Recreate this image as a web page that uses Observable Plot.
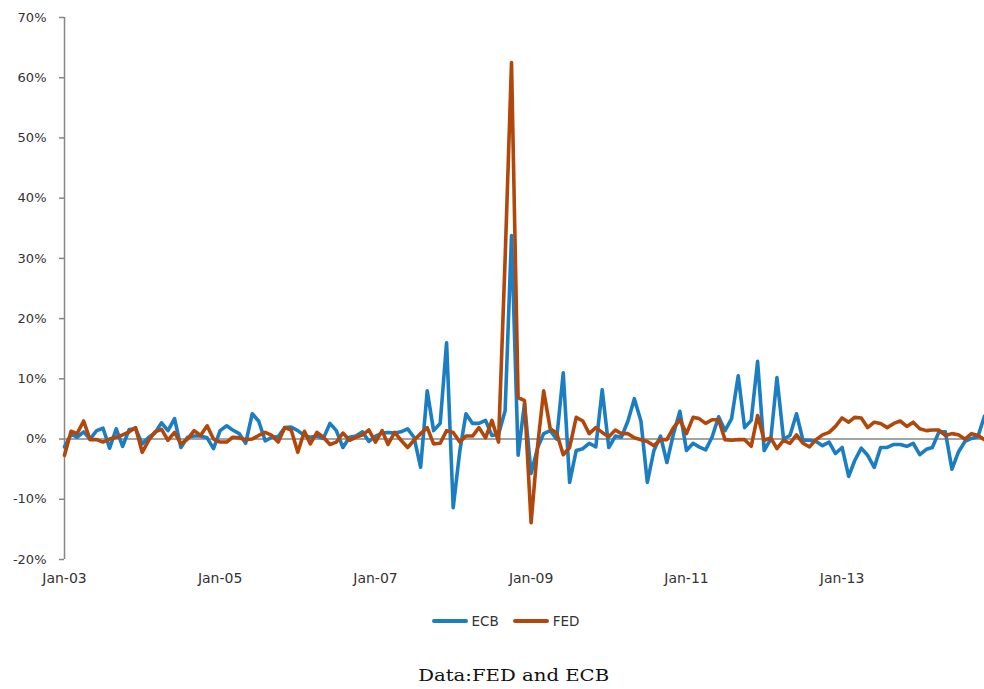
<!DOCTYPE html>
<html>
<head>
<meta charset="utf-8">
<script src="https://cdn.jsdelivr.net/npm/d3@7"></script>
<script src="https://cdn.jsdelivr.net/npm/@observablehq/plot@0.6"></script>
<style>
  html, body { margin: 0; padding: 0; background: #fff; }
  #wrap { position: relative; width: 984px; height: 689px; overflow: hidden; background: #fff; }
  #chart { position: absolute; left: 0; top: 0; }
  #legend { position: absolute; left: 0; top: 611px; width: 984px; height: 20px; box-sizing: border-box; padding-left: 27px;
            display: flex; justify-content: center; align-items: center; gap: 14px;
            font-family: "DejaVu Sans", sans-serif; font-size: 13.5px; color: #333; }
  .item { display: flex; align-items: center; }
  .sw { width: 36px; height: 4px; border-radius: 2px; margin-right: 4px; }
  #caption { position: absolute; left: 0; top: 666px; width: 984px; height: 20px; line-height: 20px; box-sizing: border-box; padding-left: 44px;
             text-align: center; font-family: "DejaVu Serif", serif; font-size: 16px; color: #111; }
  #caption span { display: inline-block; transform: scaleX(1.23); }
</style>
</head>
<body>
<div id="wrap">
  <div id="chart"></div>
  <div id="legend"></div>
  <div id="caption"><span>Data:FED and ECB</span></div>
</div>
<script>
// Monthly % change, Jan 2003 onward
const startMonth = "2003-01";
const ecb = [
  -1.3, 0.8, 0.3, 1.2, 0.0, 1.4, 1.8, -1.5, 1.7, -1.2, 1.6, 1.7,
  -0.8, 0.3, 1.0, 2.7, 1.4, 3.4, -1.4, 0.3, 0.5, 0.5, 0.2, -1.6,
  1.4, 2.2, 1.5, 0.9, -0.7, 4.2, 3.0, -0.3, 0.3, 0.4, 1.9, 2.0,
  1.4, 0.6, 0.3, 0.5, 0.1, 2.6, 1.4, -1.4, 0.3, 0.5, 1.2, -0.4,
  0.5, 1.0, 1.1, 1.0, 1.2, 1.7, 0.3, -4.7, 8.0, 1.4, 2.6, 16.0,
  -11.4, -2.0, 4.2, 2.6, 2.6, 3.1, 0.6, 0.8, 4.7, 33.8, -2.7, 5.9,
  -5.7, -1.4, 0.9, 1.4, 0.0, 11.0, -7.2, -1.9, -1.6, -0.7, -1.3, 8.2,
  -1.4, 0.5, 0.3, 3.0, 6.7, 3.0, -7.2, -1.9, 0.5, -3.9, 0.9, 4.6,
  -1.9, -0.7, -1.3, -1.8, 0.3, 3.7, 1.4, 3.4, 10.5, 1.9, 3.1, 12.9,
  -1.9, 0.0, 10.2, 0.0, 0.6, 4.2, -0.2, -0.2, -0.4, -1.1, -0.5, -2.4,
  -1.4, -6.2, -3.6, -1.5, -2.7, -4.7, -1.4, -1.4, -0.9, -0.9, -1.2, -0.7,
  -2.6, -1.7, -1.4, 1.2, 1.2, -5.0, -2.2, -0.4, 0.1, 0.4, 3.8
];
const fed = [
  -2.7, 1.3, 0.9, 3.0, -0.1, -0.1, -0.5, 0.0, 0.3, 0.7, 1.2, 1.9,
  -2.2, -0.2, 1.2, 1.6, -0.2, 1.1, -0.8, 0.0, 1.4, 0.6, 2.2, 0.0,
  -0.5, -0.5, 0.3, 0.2, -0.1, 0.0, 0.6, 1.1, 0.6, -0.5, 1.9, 1.5,
  -2.2, 1.3, -0.8, 1.1, 0.3, -0.9, -0.5, 1.0, -0.2, 0.3, 0.7, 1.5,
  -0.5, 1.4, -0.9, 1.1, -0.2, -1.4, -0.2, 0.9, 1.9, -0.8, -0.7, 1.4,
  1.1, -0.5, 0.5, 0.5, 1.9, 0.2, 3.1, -0.5, 30.0, 62.5, 6.9, 6.4,
  -13.9, -1.0, 8.0, 1.7, 1.0, -2.6, -1.4, 3.6, 3.0, 0.9, 1.9, 1.1,
  0.4, 1.5, 0.9, 0.9, 0.2, -0.1, -0.4, -1.1, -0.1, -0.1, 1.9, 3.2,
  0.9, 3.6, 3.4, 2.6, 3.2, 3.2, -0.1, -0.2, -0.1, -0.1, -1.2, 3.9,
  -0.2, 0.2, -1.6, -0.2, -0.7, 0.7, -0.7, -1.3, -0.1, 0.7, 1.1, 2.1,
  3.5, 2.8, 3.6, 3.5, 1.9, 2.8, 2.6, 1.9, 2.6, 3.0, 2.1, 2.8,
  1.7, 1.4, 1.5, 1.5, 0.6, 0.9, 0.7, 0.0, 0.9, 0.6, -0.1
];
const seriesNames = ["ECB", "FED"];
const seriesColors = ["#1C7EC2", "#B1470A"];
const xTickLabels = ["Jan-03", "Jan-05", "Jan-07", "Jan-09", "Jan-11", "Jan-13"];
const yTicks = [-20, -10, 0, 10, 20, 30, 40, 50, 60, 70];

const t0 = d3.utcParse("%Y-%m")(startMonth);
const months = ecb.map((_, i) => d3.utcMonth.offset(t0, i));
const rows = [];
[ecb, fed].forEach((vals, k) => vals.forEach((v, i) => rows.push({date: months[i], value: v, series: seriesNames[k]})));
const xTicks = xTickLabels.map(d3.utcParse("%b-%y"));

const plot = Plot.plot({
  width: 984,
  height: 600,
  marginLeft: 64,
  marginRight: 0,
  marginTop: 17,
  marginBottom: 41,
  style: {fontFamily: "'DejaVu Sans', sans-serif", fontSize: "13px", background: "#fff", color: "#333"},
  x: {type: "utc", domain: [months[0], months[months.length - 1]]},
  y: {domain: [-20, 70]},
  color: {domain: seriesNames, range: seriesColors},
  marks: [
    Plot.axisY(yTicks, {tickSize: 5, tickPadding: 13, tickFormat: d => d + "%", stroke: "#868686", strokeWidth: 1.5, fill: "#333", fontSize: 13, label: null}),
    Plot.axisX(xTicks, {tickSize: 0, tickPadding: 14, tickFormat: d3.utcFormat("%b-%y"), fill: "#333", fontSize: 14, label: null}),
    Plot.ruleX([months[0]], {y1: -20, y2: 70, stroke: "#868686", strokeWidth: 1.5}),
    Plot.ruleY([0], {stroke: "#868686", strokeWidth: 1.5}),
    Plot.line(rows, {x: "date", y: "value", z: "series", stroke: "series", strokeWidth: 3.6, strokeLinejoin: "round", strokeLinecap: "round"})
  ]
});
document.getElementById("chart").appendChild(plot);

const legend = document.getElementById("legend");
seriesNames.forEach((name, k) => {
  const item = document.createElement("div");
  item.className = "item";
  const sw = document.createElement("span");
  sw.className = "sw";
  sw.style.background = seriesColors[k];
  const lab = document.createElement("span");
  lab.textContent = name;
  item.appendChild(sw);
  item.appendChild(lab);
  legend.appendChild(item);
});
</script>
</body>
</html>
